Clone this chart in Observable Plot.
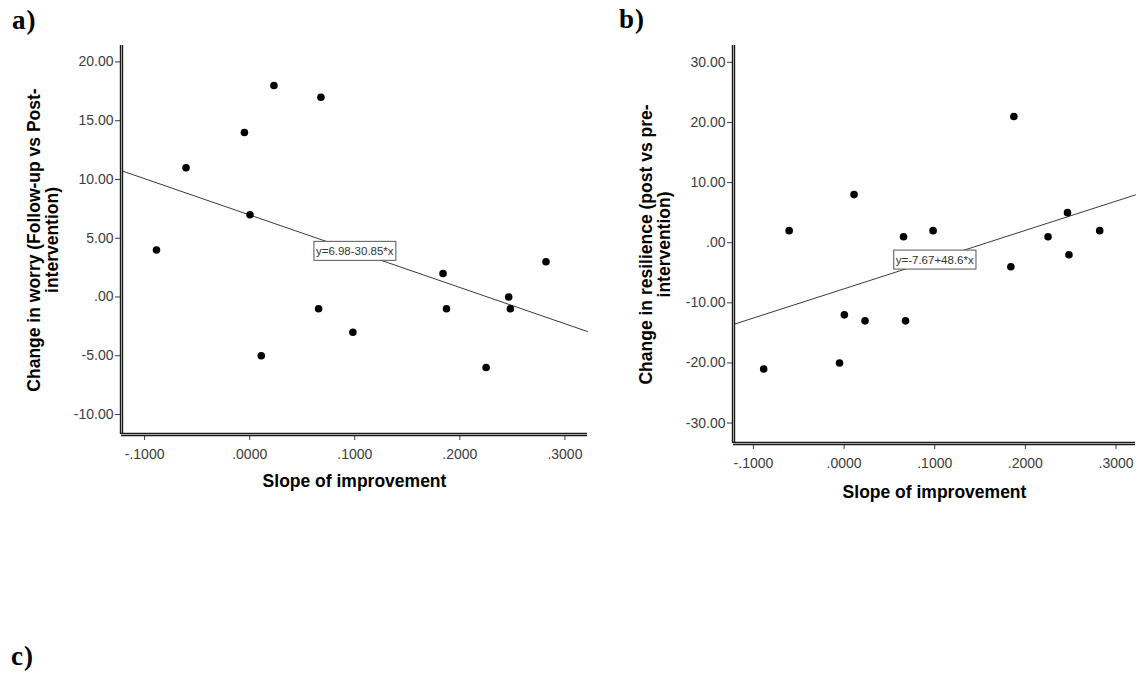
<!DOCTYPE html>
<html><head><meta charset="utf-8">
<script src="https://cdn.jsdelivr.net/npm/d3@7"></script>
<script src="https://cdn.jsdelivr.net/npm/@observablehq/plot@0.6"></script>
<style>
html,body{margin:0;padding:0;background:#fff;}
#page{position:relative;width:1141px;height:679px;overflow:hidden;background:#fff;}
.panel{position:absolute;}
.tag{position:absolute;font-family:"Liberation Serif","Times New Roman",serif;font-weight:bold;font-size:27px;line-height:1;color:#000;letter-spacing:1px;}
</style></head><body><div id="page">
<div id="pa" class="panel" style="left:0;top:0"></div>
<div id="pb" class="panel" style="left:600px;top:0"></div>
<div class="tag" style="left:12px;top:7px">a)</div>
<div class="tag" style="left:619px;top:6px">b)</div>
<div class="tag" style="left:11px;top:643px">c)</div>
</div>
<script>
// ---- data ----
const slopeOfImprovement = [-0.0887, -0.0606, -0.005, 0.0003, 0.011, 0.0231, 0.0656, 0.0678, 0.0982, 0.184, 0.1873, 0.225, 0.2465, 0.2481, 0.282];
const worryChange        = [4, 11, 14, 7, -5, 18, -1, 17, -3, 2, -1, -6, 0, -1, 3];
const resilienceChange   = [-21, 2, -20, -12, 8, -13, 1, -13, 2, -4, 21, 1, 5, -2, 2];

const xTicks = [-0.1, 0, 0.1, 0.2, 0.3];
const worryTicks = [-10, -5, 0, 5, 10, 15, 20];
const resilienceTicks = [-30, -20, -10, 0, 10, 20, 30];

const xDomain = [-0.122, 0.3215];
const worryDomain = [-11.7, 21.4];
const resilienceDomain = [-33.4, 32.8];

const worryFit = {intercept: 6.98, slope: -30.85, label: "y=6.98-30.85*x", at: [0.1, 3.9]};
const resilienceFit = {intercept: -7.67, slope: 48.6, label: "y=-7.67+48.6*x", at: [0.1, -2.86]};

const worryLabel = ["Change in worry (Follow-up vs Post-", "intervention)"];
const resilienceLabel = ["Change in resilience (post vs pre-", "intervention)"];
const xLabel = "Slope of improvement";

// ---- drawing ----
const fmt = (spec) => (d) => d3.format(spec)(d).replace("\u2212", "-").replace(/^(-?)0\./, "$1.");
const SANS = "'Liberation Sans', Arial, sans-serif";

function panel(el, {values, yDomain, yTicks, fit, yLabel, width, height, margins, xLabelDy}) {
  const data = slopeOfImprovement.map((s, i) => ({x: s, y: values[i]}));
  const fitLine = xDomain.map((x) => ({x, y: fit.intercept + fit.slope * x}));
  const bold = {fill: "#000", fontWeight: "bold", fontSize: 17.5, fontFamily: SANS, textAnchor: "middle", lineAnchor: "middle"};
  const chart = Plot.plot({
    width, height, ...margins,
    style: {fontFamily: SANS, fontSize: "14px", color: "#3c3c3c", background: "transparent", overflow: "visible"},
    x: {domain: xDomain, ticks: xTicks, tickFormat: fmt(".4f"), tickSize: 6, tickPadding: 9, label: null},
    y: {domain: yDomain, ticks: yTicks, tickFormat: fmt(".2f"), tickSize: 6, tickPadding: 2, label: null},
    marks: [
      Plot.line(fitLine, {x: "x", y: "y", stroke: "#3a3a3a", strokeWidth: 1}),
      Plot.dot(data, {x: "x", y: "y", r: 3.8, fill: "#000", stroke: "none"}),
      Plot.text([{x: fit.at[0], y: fit.at[1], t: fit.label}], {x: "x", y: "y", text: "t", fill: "#333", fontSize: 11.5, fontFamily: SANS, textAnchor: "middle", lineAnchor: "middle"}),
      Plot.ruleX([xDomain[0]], {stroke: "#1a1a1a", strokeWidth: 3.4}),
      Plot.ruleX([xDomain[0]], {stroke: "#b8b8b8", strokeWidth: 0.9}),
      Plot.ruleY([yDomain[0]], {stroke: "#1a1a1a", strokeWidth: 3.4}),
      Plot.ruleY([yDomain[0]], {stroke: "#b8b8b8", strokeWidth: 0.9}),
      Plot.text([yLabel[0]], {frameAnchor: "left", rotate: -90, dx: -87, ...bold}),
      Plot.text([yLabel[1]], {frameAnchor: "left", rotate: -90, dx: -69, ...bold}),
      Plot.text([xLabel], {frameAnchor: "bottom", dy: xLabelDy, ...bold})
    ]
  });
  el.appendChild(chart);
  chart.querySelectorAll("text").forEach((t) => {
    if (t.textContent !== fit.label) return;
    const bb = t.getBBox();
    const r = document.createElementNS("http://www.w3.org/2000/svg", "rect");
    const cy = bb.y + bb.height / 2;
    r.setAttribute("x", bb.x - 2);
    r.setAttribute("y", cy - 9.5);
    r.setAttribute("width", bb.width + 4);
    r.setAttribute("height", 19);
    r.setAttribute("fill", "#fff");
    r.setAttribute("stroke", "#555");
    r.setAttribute("stroke-width", 1);
    if (t.getAttribute("transform")) r.setAttribute("transform", t.getAttribute("transform"));
    t.parentNode.insertBefore(r, t);
  });
}

panel(document.getElementById("pa"), {
  values: worryChange, yDomain: worryDomain, yTicks: worryTicks, fit: worryFit, yLabel: worryLabel,
  width: 600, height: 510, margins: {marginLeft: 121, marginRight: 13, marginTop: 45, marginBottom: 76}, xLabelDy: 47
});
panel(document.getElementById("pb"), {
  values: resilienceChange, yDomain: resilienceDomain, yTicks: resilienceTicks, fit: resilienceFit, yLabel: resilienceLabel,
  width: 541, height: 520, margins: {marginLeft: 133, marginRight: 6, marginTop: 45, marginBottom: 77}, xLabelDy: 49
});
</script>
</body></html>
